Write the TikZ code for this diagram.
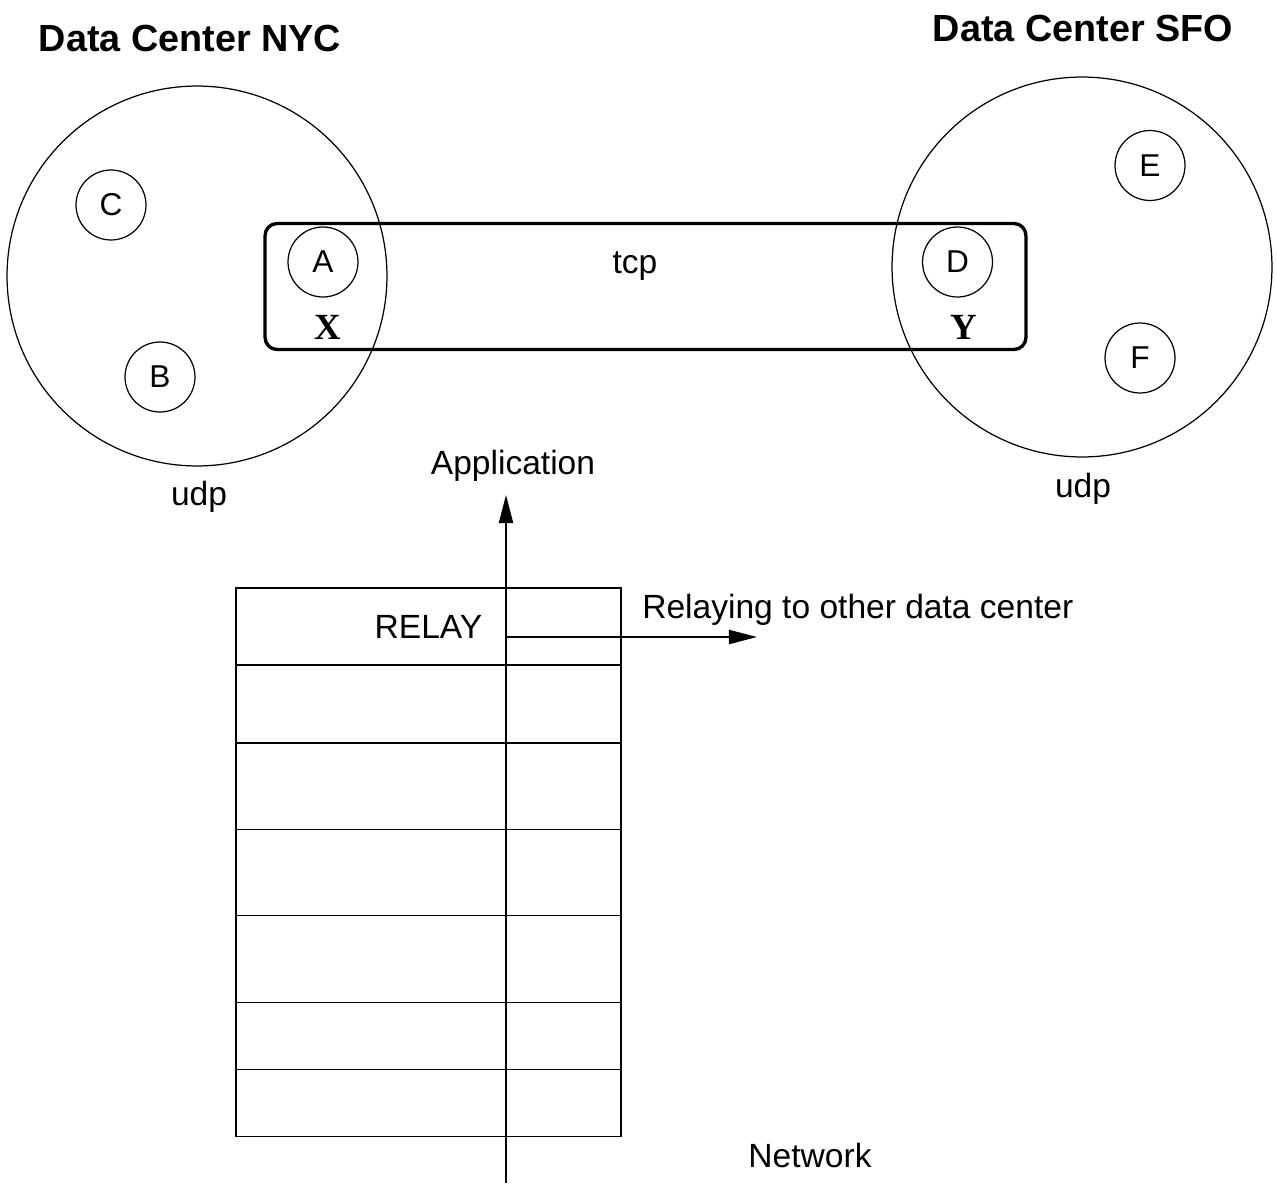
\documentclass[tikz,border=0pt]{standalone}
\usepackage{fontspec}
\setmainfont{Liberation Sans}
\newfontfamily\serifxy{Liberation Serif}
\usetikzlibrary{arrows.meta}
\begin{document}
\begin{tikzpicture}[x=0.02cm,y=-0.02cm,
  zone/.style={circle,draw,line width=0.7pt,minimum size=7.6cm,inner sep=0},
  host/.style={circle,draw,line width=0.7pt,minimum size=1.4cm,inner sep=0,font=\fontsize{18}{18}\selectfont},
  lbl/.style={inner sep=0,font=\fontsize{19.1}{21}\selectfont},
  dctitle/.style={inner sep=0,font=\fontsize{21.5}{24}\selectfont\bfseries},
  xylbl/.style={inner sep=0,font=\fontsize{21}{24}\serifxy\bfseries\selectfont},
  layer/.style={draw,line width=1.1pt,minimum width=7.7cm,inner sep=0,font=\fontsize{19.1}{21}\selectfont},
  flow/.style={line width=1.1pt,-{Triangle[length=16pt,width=8pt]}}]
\useasboundingbox (0,0) rectangle (1277,1183);

% titles
\node[dctitle] (tnyc) at (190,38.5) {Data Center NYC};
\node[dctitle] (tsfo) at (1083,28.5) {Data Center SFO};

% data center circles
\node[zone] (nyc) at (197,276) {};
\node[zone] (sfo) at (1082,267) {};
\node[lbl] (udpnyc) at (199,496.5) {udp};
\node[lbl] (udpsfo) at (1083,488.5) {udp};

% hosts
\node[host] (C) at (111,205) {C};
\node[host] (B) at (160,377) {B};
\node[host] (A) at (323,262) {A};
\node[host] (D) at (957.5,262) {D};
\node[host] (E) at (1150,165.5) {E};
\node[host] (F) at (1140,358) {F};

% tcp link box
\node[draw,rounded corners=0.24cm,line width=1.9pt,minimum width=15.22cm,minimum height=2.52cm,inner sep=0] (tcpbox) at (645.5,286.5) {};
\node[lbl] (tcp) at (635,266) {tcp};
\node[xylbl] (X) at (328,327) {X};
\node[xylbl] (Y) at (964,327) {Y};

% protocol stack
\node[layer,minimum height=1.54cm] (r1) at (428.5,626.5) {RELAY};
\node[layer,minimum height=1.56cm] (r2) at (428.5,704) {};
\node[layer,minimum height=1.73cm] (r3) at (428.5,786.25) {};
\node[layer,minimum height=1.72cm] (r4) at (428.5,872.5) {};
\node[layer,minimum height=1.74cm] (r5) at (428.5,959) {};
\node[layer,minimum height=1.34cm] (r6) at (428.5,1036) {};
\node[layer,minimum height=1.34cm] (r7) at (428.5,1103) {};

% flows
\coordinate (netin) at (506,1183);
\coordinate (appout) at (506,495);
\coordinate (relayfrom) at (506,637);
\coordinate (relayto) at (757,637);
\draw[flow] (netin) -- (appout);
\draw[flow] (relayfrom) -- (relayto);

\node[lbl] (app) at (513,466) {Application};
\node[lbl,anchor=west] (relaytxt) at (642,610) {Relaying to other data center};
\node[lbl] (net) at (810,1155) {Network};
\end{tikzpicture}
\end{document}
